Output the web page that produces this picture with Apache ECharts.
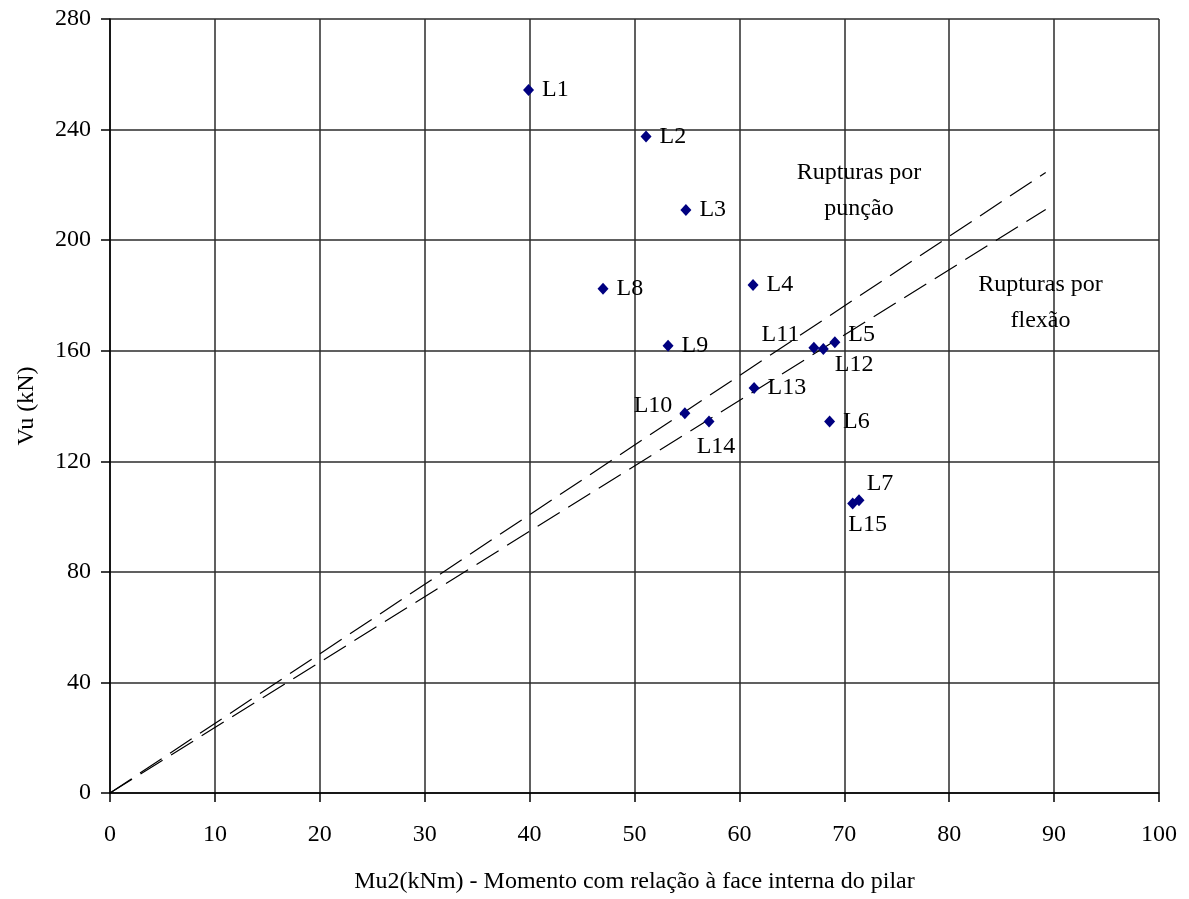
<!DOCTYPE html>
<html>
<head>
<meta charset="utf-8">
<script src="https://cdn.jsdelivr.net/npm/echarts@6/dist/echarts.min.js"></script>
<style>
  html, body { margin: 0; padding: 0; background: #fff; }
  #chart { width: 1189px; height: 899px; }
</style>
</head>
<body>
<div id="chart"></div>
<script>
// Slab tests: ultimate moment at the inner column face vs. ultimate shear
const slabNames = ['L1', 'L2', 'L3', 'L4', 'L5', 'L6', 'L7', 'L8', 'L9', 'L10', 'L11', 'L12', 'L13', 'L14', 'L15'];
const momentMu2 = [39.9, 51.1, 54.9, 61.3, 69.1, 68.6, 71.4, 47.0, 53.2, 54.8, 67.1, 68.0, 61.4, 57.1, 70.8];
const shearVu = [254.3, 237.5, 210.9, 183.8, 163.1, 134.4, 105.9, 182.4, 161.8, 137.4, 161.1, 160.6, 146.5, 134.4, 104.7];

// Boundary lines separating punching from flexural failures (start, end)
const upperLineX = [0, 89.2];
const upperLineY = [0, 224.5];
const lowerLineX = [0, 89.2];
const lowerLineY = [0, 211.1];

// Region notes (centre of each text block, in data units)
const noteText = ['Rupturas por\npunção', 'Rupturas por\nflexão'];
const noteX = [71.4, 88.7];
const noteY = [217.8, 177.3];

const xTickStep = 10;
const yTickStep = 40;

const FONT = '"Liberation Serif", "Times New Roman", serif';

// Where each point label sits relative to its marker
const labelPlacement = {
  L5: { position: 'right', offset: [0, -7] },
  L7: { position: 'top', offset: [21, 9] },
  L10: { position: 'left', offset: [1, -7] },
  L11: { position: 'left', offset: [-1, -13] },
  L12: { position: 'right', offset: [-2, 16] },
  L14: { position: 'bottom', offset: [7, -1] },
  L15: { position: 'bottom', offset: [15, -5] }
};

const pointData = slabNames.map((name, i) => {
  const item = { name: name, value: [momentMu2[i], shearVu[i]] };
  if (labelPlacement[name]) item.label = labelPlacement[name];
  return item;
});

const lineStyleDash = { color: '#000', width: 1.2, type: [26, 10] };

const chart = echarts.init(document.getElementById('chart'));
chart.setOption({
  animation: false,
  backgroundColor: '#fff',
  textStyle: { fontFamily: FONT, color: '#000' },
  grid: { left: 110, right: 30, top: 19, bottom: 106 },
  xAxis: {
    type: 'value', min: 0, max: 100, interval: xTickStep,
    name: 'Mu2(kNm) - Momento com relação à face interna do pilar',
    nameLocation: 'middle', nameGap: 77,
    nameTextStyle: { fontFamily: FONT, fontSize: 24, color: '#000' },
    axisLine: { show: true, onZero: false, lineStyle: { color: '#000', width: 1.5 } },
    axisTick: { show: true, inside: false, length: 9, lineStyle: { color: '#000', width: 1.5 } },
    axisLabel: { fontFamily: FONT, fontSize: 24, color: '#000', margin: 30 },
    splitLine: { show: true, lineStyle: { color: '#2b2b2b', width: 1.5 } }
  },
  yAxis: {
    type: 'value', min: 0, max: 280, interval: yTickStep,
    name: 'Vu (kN)',
    nameLocation: 'middle', nameGap: 71, nameRotate: 90,
    nameTextStyle: { fontFamily: FONT, fontSize: 24, color: '#000' },
    axisLine: { show: true, onZero: false, lineStyle: { color: '#000', width: 1.5 } },
    axisTick: { show: true, inside: false, length: 9, lineStyle: { color: '#000', width: 1.5 } },
    axisLabel: { fontFamily: FONT, fontSize: 24, color: '#000', margin: 19 },
    splitLine: { show: true, lineStyle: { color: '#2b2b2b', width: 1.5 } }
  },
  series: [
    {
      type: 'line', silent: true, symbol: 'none',
      data: upperLineX.map((x, i) => [x, upperLineY[i]]),
      lineStyle: lineStyleDash, z: 3
    },
    {
      type: 'line', silent: true, symbol: 'none',
      data: lowerLineX.map((x, i) => [x, lowerLineY[i]]),
      lineStyle: lineStyleDash, z: 3
    },
    {
      type: 'scatter',
      symbol: 'diamond', symbolSize: [11, 12],
      itemStyle: { color: '#000080', opacity: 1 },
      data: pointData,
      label: {
        show: true, position: 'right', distance: 8,
        formatter: p => p.name,
        fontFamily: FONT, fontSize: 24, color: '#000'
      },
      z: 5
    },
    {
      type: 'scatter', silent: true, symbolSize: 0,
      itemStyle: { opacity: 1 },
      data: noteText.map((t, i) => ({ name: t, value: [noteX[i], noteY[i]] })),
      label: {
        show: true, position: 'inside', formatter: p => p.name,
        fontFamily: FONT, fontSize: 24, color: '#000', lineHeight: 36, align: 'center'
      },
      z: 4
    }
  ]
});
</script>
</body>
</html>
